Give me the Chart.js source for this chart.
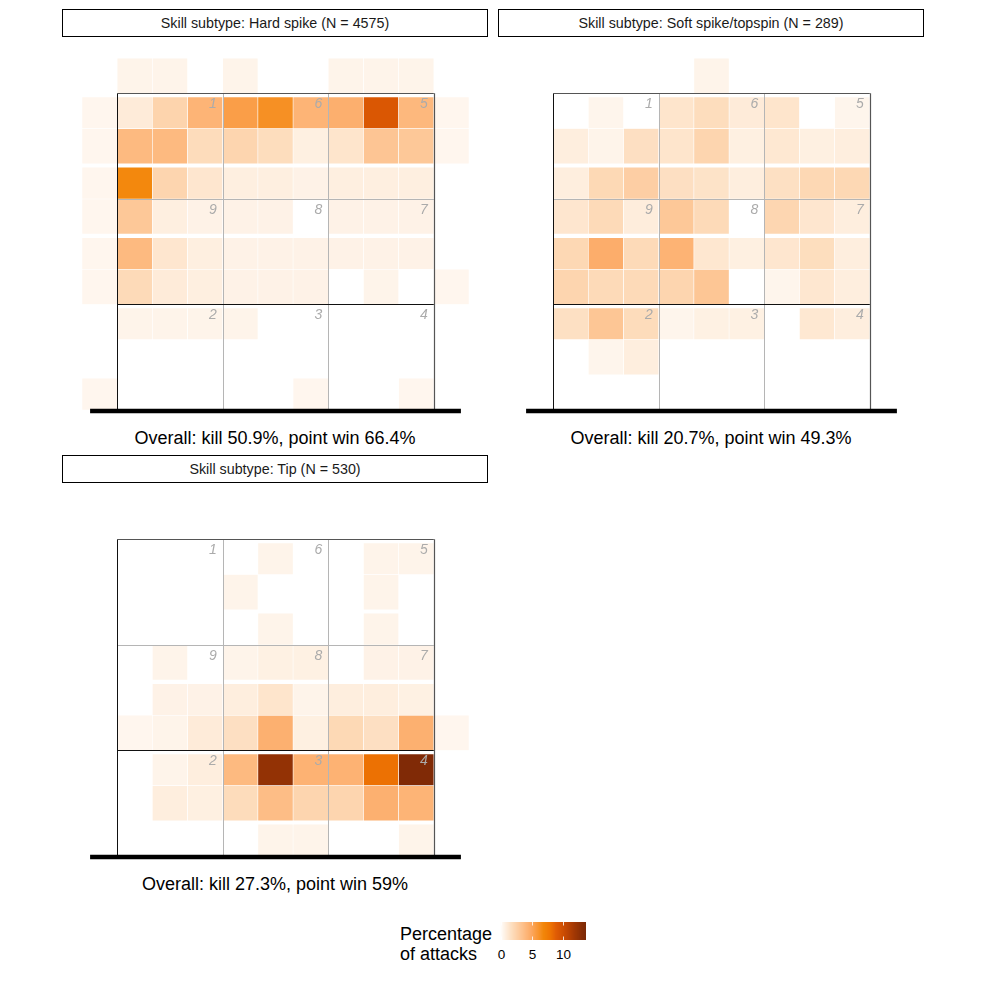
<!DOCTYPE html>
<html>
<head>
<meta charset="utf-8">
<script src="https://cdn.jsdelivr.net/npm/chart.js@4.4.1/dist/chart.umd.min.js"></script>
<style>
  body { margin: 0; background: #fff; font-family: "Liberation Sans", Arial, sans-serif; }
  #page { position: relative; width: 982px; height: 982px; overflow: hidden; }
  .strip { position: absolute; box-sizing: border-box; border: 1.4px solid #000; height: 28px;
           font-size: 14.3px; line-height: 26px; text-align: center; color: #1a1a1a; }
  .caption { position: absolute; font-size: 18px; line-height: 20px; text-align: center; color: #000; }
  .panel { position: absolute; }
  .legendTitle { position: absolute; left: 400px; top: 924px; font-size: 18px; line-height: 20px; }
  .tick { position: absolute; top: 947px; font-size: 13.5px; line-height: 16px; transform: translateX(-50%); }
</style>
</head>
<body>
<div id="page"></div>
<script>
// columns: one outside left, nine across the court (3 per zone), one outside right
const columns = ['out L', 'a1', 'a2', 'a3', 'b1', 'b2', 'b3', 'c1', 'c2', 'c3', 'out R'];
// rows listed from beyond the end line (top) down to the net (bottom)

// percentage of attacks per cell
const hardSpike = [
    [0, .6, .6, 0, .6, 0, 0, .6, .6, .6, 0],
    [.5, 1.1, 2.5, 4.35, 5.6, 6.4, 4.35, 4.6, 9.4, 4.1, .5],
    [.5, 4.0, 4.0, 2.0, 2.4, 1.95, .85, 1.5, 3.35, 3.2, .5],
    [.5, 6.9, 2.4, 1.4, .9, .9, .7, .9, .9, .9, 0],
    [.5, 3.2, .9, .7, .7, .7, 0, .7, .7, .7, 0],
    [.5, 4.0, 1.4, .9, .7, .7, .7, .7, .7, .7, 0],
    [.5, 2.1, 1.1, .9, .7, .7, .7, 0, .6, 0, .5],
    [0, .6, .6, .6, .6, 0, 0, 0, 0, 0, 0],
    [0, 0, 0, 0, 0, 0, 0, 0, 0, 0, 0],
    [.5, 0, 0, 0, 0, 0, .5, 0, 0, .5, 0]
];
const softSpike = [
    [0, 0, 0, 0, 0, .6, 0, 0, 0, 0, 0],
    [0, 0, .55, 0, 1.5, 1.95, 1.1, 1.5, 0, .55, 0],
    [0, .95, .6, 1.8, 1.5, 2.4, .85, 1.3, .85, .95, 0],
    [0, .95, 2.2, 2.8, 1.8, 1.6, .95, 1.75, 2.25, 2.25, 0],
    [0, 1.4, 2.1, 1.0, 3.2, 2.1, 0, 2.35, 1.4, .95, 0],
    [0, 2.25, 4.7, 2.1, 4.4, 1.35, .85, 1.4, 1.9, .95, 0],
    [0, 2.4, 2.1, 2.1, 2.4, 3.3, 0, .55, 1.35, .95, 0],
    [0, 1.75, 3.3, 2.0, .55, .8, .8, 0, 1.3, .95, 0],
    [0, 0, .55, .95, 0, 0, 0, 0, 0, 0, 0],
    [0, 0, 0, 0, 0, 0, 0, 0, 0, 0, 0]
];
const tip = [
    [0, 0, 0, 0, 0, 0, 0, 0, 0, 0, 0],
    [0, 0, 0, 0, 0, .6, 0, 0, .6, .6, 0],
    [0, 0, 0, 0, .6, 0, 0, 0, .6, 0, 0],
    [0, 0, 0, 0, 0, .6, 0, 0, .6, 0, 0],
    [0, 0, .6, 0, .6, .8, .8, 0, .7, .7, 0],
    [0, 0, .7, .7, .95, 1.5, .6, .95, .95, .8, 0],
    [0, .5, .6, 1.1, 1.8, 4.55, .85, 2.2, 1.8, 4.55, .5],
    [0, 0, .6, .95, 4.0, 12.6, 4.45, 4.45, 8.2, 13.5, 0],
    [0, 0, .95, .85, 2.0, 3.8, 2.4, 2.4, 4.55, 4.35, 0],
    [0, 0, 0, 0, 0, .6, .6, 0, 0, .6, 0]
];

const titles = [
    'Skill subtype: Hard spike (N = 4575)',
    'Skill subtype: Soft spike/topspin (N = 289)',
    'Skill subtype: Tip (N = 530)'
];
const captions = [
    'Overall: kill 50.9%, point win 66.4%',
    'Overall: kill 20.7%, point win 49.3%',
    'Overall: kill 27.3%, point win 59%'
];
// zone numbers, back row to front row
const zoneNumbers = [['1', '6', '5'], ['9', '8', '7'], ['2', '3', '4']];
const legendTicks = [0, 5, 10];
const legendMax = 13.8;

const colorStops = [
    [0, '#ffffff'], [1, '#feeddc'], [2, '#fddcbb'], [3, '#fdcb9e'], [4, '#fdba80'],
    [5, '#fca862'], [6, '#f99736'], [7, '#f28609'], [8, '#ef7603'], [9, '#e05c04'],
    [10, '#d04f02'], [11, '#b94203'], [12, '#a03704'], [13, '#8a2e05'], [13.8, '#7a2806']
];

function hexRgb(h) {
    return [parseInt(h.slice(1, 3), 16), parseInt(h.slice(3, 5), 16), parseInt(h.slice(5, 7), 16)];
}

function fillFor(v) {
    for (let i = 1; i < colorStops.length; i++) {
        const [v1, c1] = colorStops[i];
        const [v0, c0] = colorStops[i - 1];
        if (v <= v1 || i === colorStops.length - 1) {
            const t = Math.max(0, Math.min(1, (v - v0) / (v1 - v0)));
            const a = hexRgb(c0), b = hexRgb(c1);
            const m = a.map((x, k) => Math.round(x + (b[k] - x) * t));
            return `rgb(${m[0]},${m[1]},${m[2]})`;
        }
    }
}

const U = 35.15; // pixels per court metre
const page = document.getElementById('page');

// court lines, zone numbers and net drawn on top of the tiles
const courtPlugin = {
    id: 'court',
    afterDatasetsDraw(chart) {
        const { ctx } = chart;
        const xs = chart.scales.x, ys = chart.scales.y;
        const px = v => xs.getPixelForValue(v + 0.5);
        const py = v => ys.getPixelForValue(v);
        const line = (x1, y1, x2, y2, color, w) => {
            ctx.beginPath();
            ctx.strokeStyle = color;
            ctx.lineWidth = w;
            ctx.moveTo(x1, y1);
            ctx.lineTo(x2, y2);
            ctx.stroke();
        };
        ctx.save();
        const snap = p => Math.round(p) + 0.5;
        line(snap(px(3)), py(0), snap(px(3)), py(9), '#b5b5b5', 1);
        line(snap(px(6)), py(0), snap(px(6)), py(9), '#b5b5b5', 1);
        line(px(0), snap(py(6)), px(9), snap(py(6)), '#b5b5b5', 1);
        line(px(0), snap(py(3)), px(9), snap(py(3)), '#111', 1);
        line(snap(px(0)), py(0), snap(px(0)), py(9), '#111', 1);
        line(px(0), snap(py(9)), px(9), snap(py(9)), '#555', 1.2);
        line(snap(px(9)), py(0), snap(px(9)), py(9), '#555', 1.2);

        ctx.font = 'italic 14px "Liberation Sans", Arial, sans-serif';
        ctx.fillStyle = '#ababab';
        ctx.textAlign = 'right';
        ctx.textBaseline = 'middle';
        zoneNumbers.forEach((row, r) => {
            row.forEach((label, k) => {
                ctx.fillText(label, px(3 * (k + 1) - 0.17), py(9 - 3 * r - 0.31));
            });
        });

        line(px(-0.77), py(0) + 1, px(9.77), py(0) + 1, '#000', 4.5);
        ctx.restore();
    }
};

function drawPanel(values, x0, net) {
    const left = Math.round(x0 - U);
    const width = Math.round(11 * U);
    const top = Math.round(net - 10.25 * U);
    const height = Math.round(10.6 * U);
    const unit = width / 11;

    const wrap = document.createElement('div');
    wrap.className = 'panel';
    wrap.style.left = left + 'px';
    wrap.style.top = top + 'px';
    const canvas = document.createElement('canvas');
    canvas.width = width;
    canvas.height = height;
    wrap.appendChild(canvas);
    page.appendChild(wrap);

    // tiles come in pairs of rows with a small white gap between pairs
    const datasets = values.map((row, r) => ({
        label: 'row ' + r,
        data: row.map(v => (v > 0 ? [9 - r, 10 - r - (r % 2 ? 0.1 : 0)] : null)),
        backgroundColor: row.map(v => fillFor(v)),
        borderColor: '#ffffff',
        borderWidth: 0.6,
        borderSkipped: false,
        barPercentage: 1,
        categoryPercentage: 1,
        grouped: false
    }));

    new Chart(canvas, {
        type: 'bar',
        data: { labels: columns, datasets },
        options: {
            responsive: false,
            animation: false,
            layout: { padding: 0 },
            plugins: { legend: { display: false }, tooltip: { enabled: false } },
            scales: {
                x: { display: false, grid: { display: false } },
                y: {
                    display: false,
                    min: -(top + height - net) / unit,
                    max: (net - top) / unit
                }
            }
        },
        plugins: [courtPlugin]
    });
}

function addStrip(text, left, top) {
    const d = document.createElement('div');
    d.className = 'strip';
    d.style.left = left + 'px';
    d.style.top = top + 'px';
    d.style.width = '426px';
    d.textContent = text;
    page.appendChild(d);
}

function addCaption(text, left, top) {
    const d = document.createElement('div');
    d.className = 'caption';
    d.style.left = left + 'px';
    d.style.top = top + 'px';
    d.style.width = '426px';
    d.textContent = text;
    page.appendChild(d);
}

const layout = [
    { data: hardSpike, x0: 117, net: 410, stripLeft: 62, stripTop: 9, capTop: 428 },
    { data: softSpike, x0: 553, net: 410, stripLeft: 498, stripTop: 9, capTop: 428 },
    { data: tip, x0: 117, net: 856, stripLeft: 62, stripTop: 455, capTop: 874 }
];

layout.forEach((p, i) => {
    drawPanel(p.data, p.x0, p.net);
    addStrip(titles[i], p.stripLeft, p.stripTop);
    addCaption(captions[i], p.stripLeft, p.capTop);
});

// colour bar legend
const lt = document.createElement('div');
lt.className = 'legendTitle';
lt.innerHTML = 'Percentage<br>of attacks';
page.appendChild(lt);

const bar = document.createElement('canvas');
bar.width = 86;
bar.height = 18;
bar.style.position = 'absolute';
bar.style.left = '500px';
bar.style.top = '922px';
page.appendChild(bar);
const bctx = bar.getContext('2d');
for (let i = 0; i < bar.width; i++) {
    bctx.fillStyle = fillFor((i + 0.5) / bar.width * legendMax);
    bctx.fillRect(i, 0, 1, bar.height);
}
legendTicks.forEach(t => {
    const x = Math.round(1 + t / legendMax * (bar.width - 1)) + 0.5;
    bctx.strokeStyle = 'rgba(255,255,255,0.8)';
    bctx.lineWidth = 1;
    bctx.beginPath(); bctx.moveTo(x, 0); bctx.lineTo(x, 3.5); bctx.stroke();
    bctx.beginPath(); bctx.moveTo(x, bar.height - 3.5); bctx.lineTo(x, bar.height); bctx.stroke();
    const lab = document.createElement('div');
    lab.className = 'tick';
    lab.style.left = (500 + x) + 'px';
    lab.textContent = t;
    page.appendChild(lab);
});
</script>
</body>
</html>
